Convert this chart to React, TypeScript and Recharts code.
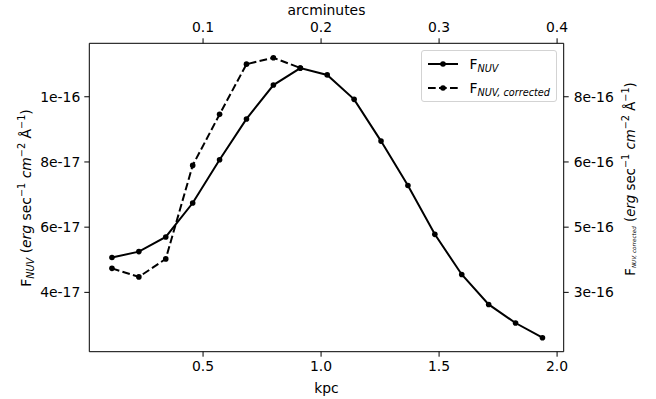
// Radial NUV flux profile: observed vs extinction-corrected
import { LineChart, Line, XAxis, YAxis, Legend } from 'recharts'

const FONT = '"DejaVu Sans", sans-serif'
const FS = 13.9
const SUB_FS = 9.7

// projected radius (kpc)
const kpc = [0.114, 0.228, 0.342, 0.456, 0.57, 0.684, 0.798, 0.912, 1.026, 1.14, 1.254, 1.368, 1.482, 1.596, 1.71, 1.824, 1.938]
// observed flux, left axis (erg s^-1 cm^-2 A^-1)
const fNuv = [
  5.07e-17, 5.25e-17, 5.7e-17, 6.74e-17, 8.07e-17, 9.32e-17, 1.036e-16, 1.088e-16, 1.067e-16,
  9.92e-17, 8.64e-17, 7.28e-17, 5.78e-17, 4.55e-17, 3.63e-17, 3.06e-17, 2.61e-17,
]
// corrected flux, right axis units
const fNuvCorrected = [3.6e-16, 3.4e-16, 3.82e-16, 6.0e-16, 7.19e-16, 8.36e-16, 8.51e-16, 8.27e-16]

const kpcTicks = [0.5, 1.0, 1.5, 2.0]
const arcminLabels = ['0.1', '0.2', '0.3', '0.4']
const leftTicks = [4e-17, 6e-17, 8e-17, 1e-16]

const X_DOMAIN: [number, number] = [0.018, 2.028]
const LEFT_DOMAIN: [number, number] = [2.18e-17, 1.164e-16]
const RIGHT_SCALE = 7.6 // right axis is a rescaled copy of the left one
const RIGHT_DOMAIN: [number, number] = [LEFT_DOMAIN[0] * RIGHT_SCALE, LEFT_DOMAIN[1] * RIGHT_SCALE]
const rightTicks = leftTicks.map(v => v * RIGHT_SCALE)

const data = kpc.map((k, i) => ({
  kpc: k,
  fNuv: fNuv[i],
  fNuvCorr: i < fNuvCorrected.length ? fNuvCorrected[i] : undefined,
}))

type Seg = { t: string; it?: boolean; s?: 'sub' | 'sup'; fs?: number }

const unitSegs: Seg[] = [
  { t: ' (' }, { t: 'erg', it: true }, { t: ' sec' }, { t: '−1', s: 'sup' },
  { t: ' ' }, { t: 'cm', it: true }, { t: '−2', s: 'sup' },
  { t: ' Å' }, { t: '−1', s: 'sup' }, { t: ')' },
]

const shiftOf = (s?: 'sub' | 'sup') => (s === 'sub' ? 3.5 : s === 'sup' ? -5 : 0)

function RichText({ x, y, segs, size = FS }: { x: number; y: number; segs: Seg[]; size?: number }) {
  let prev = 0
  return (
    <text
      transform={`translate(${x},${y}) rotate(-90)`}
      textAnchor="middle"
      dominantBaseline="central"
      fontFamily={FONT}
      fontSize={size}
      fill="#000"
    >
      {segs.map((sg, i) => {
        const cur = shiftOf(sg.s)
        const dy = cur - prev
        prev = cur
        return (
          <tspan
            key={i}
            dy={dy}
            fontStyle={sg.it ? 'italic' : 'normal'}
            fontSize={sg.fs ?? (sg.s ? SUB_FS : size)}
          >
            {sg.t}
          </tspan>
        )
      })}
    </text>
  )
}

const LeftTitle = () => (
  <RichText x={26} y={198} segs={[{ t: 'F' }, { t: 'NUV', it: true, s: 'sub' }, ...unitSegs]} />
)
const RightTitle = () => (
  <RichText
    x={630}
    y={179}
    size={13.3}
    segs={[{ t: 'F' }, { t: 'NUV, corrected', it: true, s: 'sub', fs: 5.6 }, ...unitSegs]}
  />
)
const BottomTitle = () => (
  <text x={326.5} y={388} textAnchor="middle" dominantBaseline="central" fontFamily={FONT} fontSize={FS} fill="#000">
    kpc
  </text>
)
const TopTitle = () => (
  <text x={326.5} y={10} textAnchor="middle" dominantBaseline="central" fontFamily={FONT} fontSize={FS} fill="#000">
    arcminutes
  </text>
)

const legendItems = [
  { sub: 'NUV', dash: undefined },
  { sub: 'NUV, corrected', dash: '7.7 3.3' },
]

function LegendBox() {
  return (
    <div
      style={{
        position: 'relative',
        width: 136,
        height: 52,
        boxSizing: 'border-box',
        border: '1px solid #d3d3d3',
        borderRadius: 3,
        background: 'rgba(255,255,255,0.8)',
        fontFamily: FONT,
        fontSize: FS,
        color: '#000',
      }}
    >
      {legendItems.map((it, i) => (
        <div
          key={i}
          style={{ position: 'absolute', left: 5, top: 4 + i * 24, height: 18, display: 'flex', alignItems: 'center', whiteSpace: 'nowrap' }}
        >
          <svg width={32} height={10} style={{ display: 'block' }}>
            <line x1={1} y1={5} x2={31} y2={5} stroke="#000" strokeWidth={2} strokeDasharray={it.dash} />
            <circle cx={16} cy={5} r={2.8} fill="#000" />
          </svg>
          <span style={{ marginLeft: 10.5 }}>
            F
            <span style={{ fontSize: SUB_FS, fontStyle: 'italic', position: 'relative', top: 3 }}>{it.sub}</span>
          </span>
        </div>
      ))}
    </div>
  )
}

const tickStyle = { fill: '#000', fontSize: FS, fontFamily: FONT }
const expFmt = (v: number) => v.toExponential(0)

export default function App() {
  return (
    <div style={{ position: 'absolute', left: 0, top: 0, width: 656, height: 399, background: '#fff' }}>
      <LineChart width={656} height={399} data={data} margin={{ top: 0, right: 0, bottom: 0, left: 0 }}>
        <XAxis
          xAxisId="bottom"
          type="number"
          dataKey="kpc"
          domain={X_DOMAIN}
          allowDataOverflow
          ticks={kpcTicks}
          tickFormatter={(v: number) => v.toFixed(1)}
          height={47.3}
          tick={tickStyle}
          tickSize={5}
          tickMargin={4}
          axisLine={{ stroke: '#000', strokeWidth: 1 }}
          tickLine={{ stroke: '#000', strokeWidth: 1 }}
          label={<BottomTitle />}
        />
        <XAxis
          xAxisId="top"
          orientation="top"
          type="number"
          dataKey="kpc"
          domain={X_DOMAIN}
          allowDataOverflow
          ticks={kpcTicks}
          tickFormatter={(v: number, i: number) => arcminLabels[i]}
          height={43.3}
          tick={tickStyle}
          tickSize={5}
          tickMargin={6}
          axisLine={{ stroke: '#000', strokeWidth: 1 }}
          tickLine={{ stroke: '#000', strokeWidth: 1 }}
          label={<TopTitle />}
        />
        <YAxis
          yAxisId="left"
          type="number"
          domain={LEFT_DOMAIN}
          allowDataOverflow
          ticks={leftTicks}
          tickFormatter={expFmt}
          width={89.3}
          tick={tickStyle}
          tickSize={5}
          tickMargin={4}
          axisLine={{ stroke: '#000', strokeWidth: 1 }}
          tickLine={{ stroke: '#000', strokeWidth: 1 }}
          label={<LeftTitle />}
        />
        <YAxis
          yAxisId="right"
          orientation="right"
          type="number"
          domain={RIGHT_DOMAIN}
          allowDataOverflow
          ticks={rightTicks}
          tickFormatter={expFmt}
          width={92.3}
          tick={tickStyle}
          tickSize={5}
          tickMargin={5}
          axisLine={{ stroke: '#000', strokeWidth: 1 }}
          tickLine={{ stroke: '#000', strokeWidth: 1 }}
          label={<RightTitle />}
        />
        <Legend
          layout="vertical"
          align="center"
          verticalAlign="middle"
          content={<LegendBox />}
          wrapperStyle={{ left: 421, top: 50, width: 136, height: 52 }}
        />
        <Line
          xAxisId="bottom"
          yAxisId="left"
          type="linear"
          dataKey="fNuv"
          name="F_NUV"
          stroke="#000"
          strokeWidth={2}
          dot={{ r: 2.8, fill: '#000', strokeWidth: 0 }}
          activeDot={false}
          isAnimationActive={false}
        />
        <Line
          xAxisId="bottom"
          yAxisId="right"
          type="linear"
          dataKey="fNuvCorr"
          name="F_NUV, corrected"
          stroke="#000"
          strokeWidth={2}
          strokeDasharray="7.7 3.3"
          dot={{ r: 2.8, fill: '#000', strokeWidth: 0, strokeDasharray: '' }}
          activeDot={false}
          isAnimationActive={false}
        />
      </LineChart>
    </div>
  )
}
